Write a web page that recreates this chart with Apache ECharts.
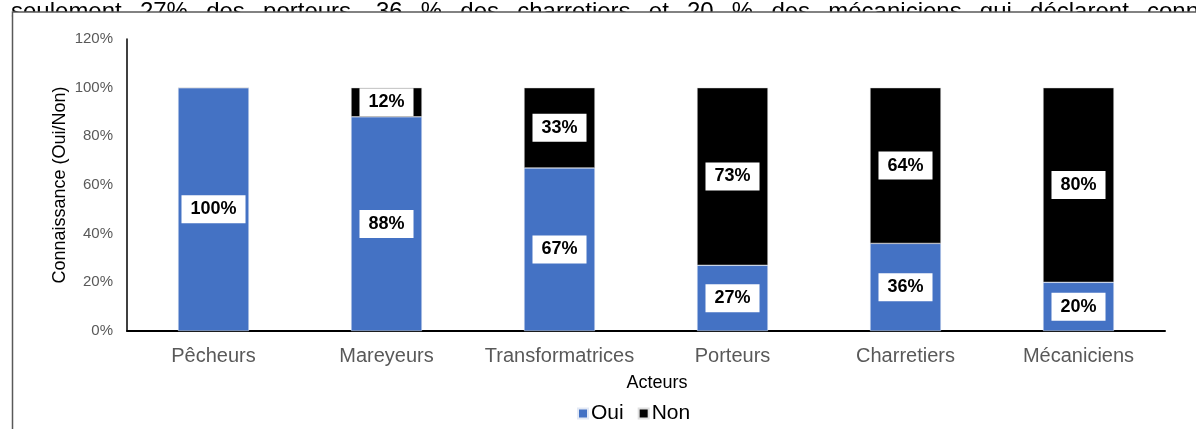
<!DOCTYPE html>
<html>
<head>
<meta charset="utf-8">
<script src="https://cdn.jsdelivr.net/npm/echarts@6/dist/echarts.min.js"></script>
<style>
  html, body { margin: 0; padding: 0; background: #fff; }
  #chart { width: 1196px; height: 429px; }
</style>
</head>
<body>
<div id="chart"></div>
<script>
// catégories et valeurs (%)
var acteurs = ['Pêcheurs', 'Mareyeurs', 'Transformatrices', 'Porteurs', 'Charretiers', 'Mécaniciens']
var oui = [100, 88, 67, 27, 36, 20]
var non = [0, 12, 33, 73, 64, 80]
var yTicks = [0, 20, 40, 60, 80, 100, 120]
// ligne de texte du document, coupée par le cadre
var texteHaut = 'seulement 27% des porteurs, 36 % des charretiers et 20 % des mécaniciens qui déclarent connaissance'

var FONT = '"Liberation Sans", Arial, sans-serif'
var chart = echarts.init(document.getElementById('chart'))

// texte justifié : mots répartis entre x=11 et x=1147 (début du dernier mot)
function motsJustifies() {
  var ctx = document.createElement('canvas').getContext('2d')
  ctx.font = '24px ' + FONT
  var mots = texteHaut.split(' ')
  var total = 0
  for (var i = 0; i < mots.length - 1; i++) total += ctx.measureText(mots[i]).width
  var gap = (1147 - 11 - total) / (mots.length - 1)
  var x = 11
  var out = []
  mots.forEach(function (m) {
    out.push({
      type: 'text', x: x, y: 0, z: -20,
      style: { text: m, fill: '#000', font: '24px ' + FONT }
    })
    x += ctx.measureText(m).width + gap
  })
  return out
}

function labelFor(v) {
  return { value: v, label: { show: v > 0 } }
}

var labelStyle = {
  show: true,
  position: 'inside',
  formatter: '{c}%',
  color: '#000',
  fontFamily: FONT,
  fontWeight: 'bold',
  fontSize: 18,
  backgroundColor: '#fff',
  padding: [6, 9, 4, 9]
}

var option = {
  animation: false,
  textStyle: { fontFamily: FONT },
  graphic: motsJustifies().concat([
    {
      type: 'rect', z: -10,
      shape: { x: 12, y: 12, width: 1184, height: 417 },
      style: { fill: '#fff' }
    },
    {
      type: 'polyline', z: -5,
      shape: { points: [[12.5, 429], [12.5, 12], [1196, 12]] },
      style: { stroke: '#595959', lineWidth: 1.5, fill: null }
    },
    {
      type: 'text', z: -5,
      x: 657, y: 374,
      style: { text: 'Acteurs', fill: '#000', font: '18px ' + FONT, textAlign: 'center' }
    }
  ]),
  legend: {
    data: ['Oui', 'Non'],
    top: 398,
    left: 572,
    itemWidth: 10,
    itemHeight: 10,
    itemGap: 14,
    icon: 'rect',
    textStyle: { fontSize: 21, color: '#000', padding: [0, 0, 0, -2] }
  },
  grid: { left: 127, right: 31, top: 39, bottom: 98 },
  xAxis: {
    type: 'category',
    data: acteurs,
    axisTick: { show: false },
    axisLine: { lineStyle: { color: '#000', width: 2 } },
    axisLabel: { color: '#595959', fontSize: 20, margin: 15, interval: 0 }
  },
  yAxis: {
    type: 'value',
    name: 'Connaissance (Oui/Non)',
    nameLocation: 'middle',
    nameGap: 58,
    nameMoveOverlap: false,
    nameTextStyle: { color: '#000', fontSize: 18 },
    min: yTicks[0],
    max: yTicks[yTicks.length - 1],
    interval: 20,
    axisLine: { show: true, lineStyle: { color: '#000', width: 1.5 } },
    axisTick: { show: false },
    splitLine: { show: false },
    axisLabel: { color: '#595959', fontSize: 15, margin: 14, formatter: '{value}%' }
  },
  series: [
    {
      name: 'Oui',
      type: 'bar',
      stack: 'total',
      data: oui.map(labelFor),
      barWidth: '41%',
      itemStyle: { color: '#4472C4', borderColor: '#e3e9f5', borderWidth: 0.5 },
      label: labelStyle
    },
    {
      name: 'Non',
      type: 'bar',
      stack: 'total',
      data: non.map(labelFor),
      barWidth: '41%',
      itemStyle: { color: '#000', borderColor: '#e0e0e0', borderWidth: 0.5 },
      label: labelStyle
    }
  ]
}

chart.setOption(option)
</script>
</body>
</html>
